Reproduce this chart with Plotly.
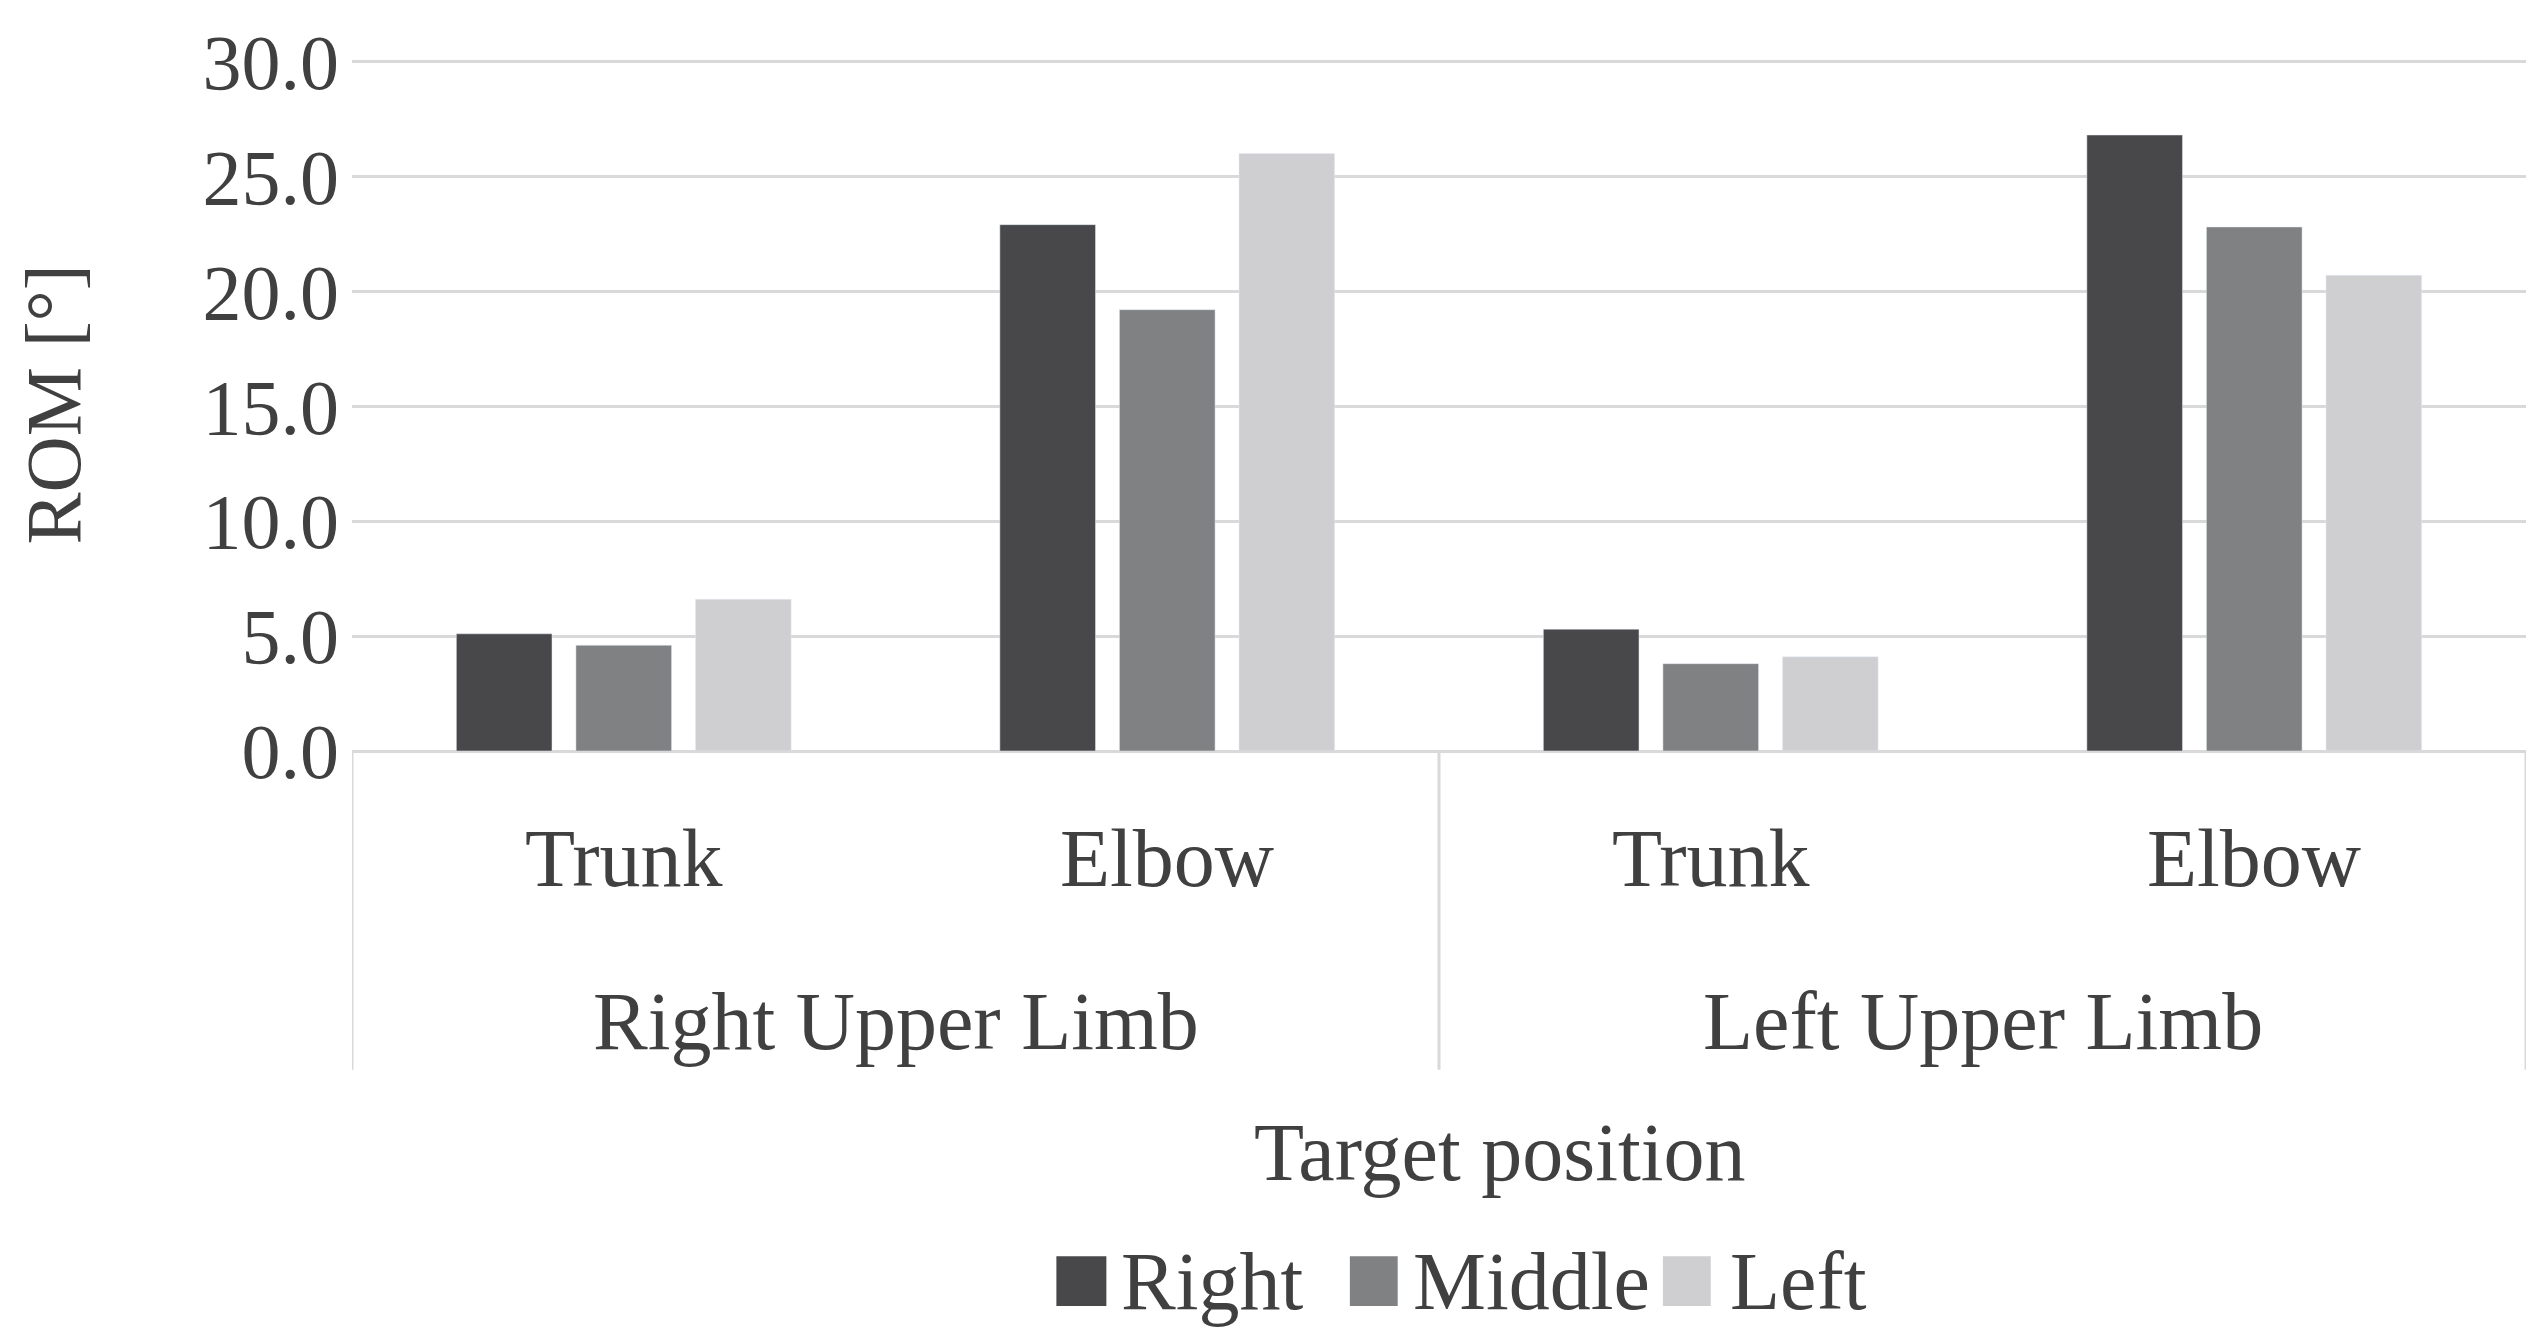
import plotly.graph_objects as go

groups = ["Right Upper Limb", "Left Upper Limb"]
subcats = ["Trunk", "Elbow", "Trunk", "Elbow"]
series = ["Right", "Middle", "Left"]
right = [5.1, 22.9, 5.3, 26.8]
middle = [4.6, 19.2, 3.8, 22.8]
left = [6.6, 26.0, 4.1, 20.7]
colors = ["#48484a", "#808183", "#cfcfd1"]
yticks = [0, 5, 10, 15, 20, 25, 30]

FONT = "Liberation Serif"
TXT = "#404040"
xs = list(range(len(subcats)))

fig = go.Figure()
for name, vals, c in zip(series, [right, middle, left], colors):
    fig.add_trace(go.Bar(x=xs, y=vals, name=name, marker_color=c, showlegend=False))

for i, s in enumerate(subcats):
    fig.add_annotation(x=i, y=-0.155, xref="x", yref="paper", text=s, showarrow=False,
                       font=dict(size=82, color=TXT, family=FONT), yanchor="middle")
for g, gx in zip(groups, [0.5, 2.5]):
    fig.add_annotation(x=gx, y=-0.39, xref="x", yref="paper", text=g, showarrow=False,
                       font=dict(size=82, color=TXT, family=FONT), yanchor="middle")
for bx in [-0.5, 1.5, 3.5]:
    fig.add_shape(type="line", x0=bx, x1=bx, y0=0, y1=-0.46, xref="x", yref="paper",
                  line=dict(color="#d9d9d9", width=3))
fig.add_annotation(x=0.528, y=-0.58, xref="paper", yref="paper", text="Target position",
                   showarrow=False, font=dict(size=82, color=TXT, family=FONT), yanchor="middle")
fig.add_annotation(x=-0.1375, y=0.5, xref="paper", yref="paper", text="ROM [°]", textangle=-90,
                   showarrow=False, font=dict(size=78, color=TXT, family=FONT),
                   xanchor="center", yanchor="middle")

# manual legend
leg = [(0.324, 0.347, 0.353), (0.459, 0.481, 0.487), (0.603, 0.625, 0.633)]
for (x0, x1, tx), name, c in zip(leg, series, colors):
    fig.add_shape(type="rect", x0=x0, x1=x1, y0=-0.801, y1=-0.729, xref="paper", yref="paper",
                  fillcolor=c, line=dict(width=0))
    fig.add_annotation(x=tx, y=-0.765, xref="paper", yref="paper", text=name, showarrow=False,
                       xanchor="left", yanchor="middle", font=dict(size=82, color=TXT, family=FONT))

fig.update_layout(
    width=2544, height=1336,
    margin=dict(l=344, r=26, t=50, b=593),
    plot_bgcolor="white", paper_bgcolor="white",
    barmode="group", bargap=0.34, bargroupgap=0.2,
    font=dict(family=FONT, color=TXT, size=78),
    showlegend=False,
    xaxis=dict(range=[-0.5, 3.5], showticklabels=False, showgrid=False, zeroline=False,
               showline=False),
    yaxis=dict(range=[0, 30.15], tickvals=yticks, tickformat=".1f", gridcolor="#d9d9d9",
               gridwidth=3, zeroline=True, zerolinecolor="#d9d9d9", zerolinewidth=3,
               tickfont=dict(size=78, family=FONT, color=TXT), ticklabelstandoff=12),
)
fig.write_html("out.html")
